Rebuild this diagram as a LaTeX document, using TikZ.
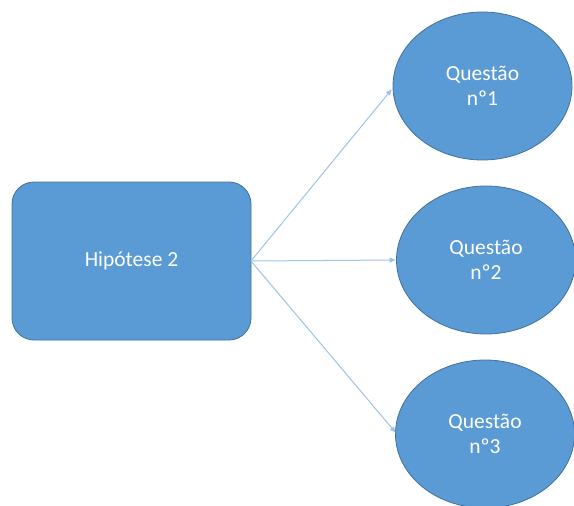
\documentclass[tikz,border=0pt]{standalone}
\usepackage{fontspec}
\setmainfont{Carlito}
\usetikzlibrary{shapes.geometric,arrows.meta}
\definecolor{boxfill}{HTML}{5B9BD5}
\definecolor{boxedge}{HTML}{41719C}
\definecolor{arrowc}{HTML}{9DC3E6}
\tikzset{
  hyp/.style={rectangle, rounded corners=22pt, fill=boxfill, draw=boxedge, line width=0.8pt,
    minimum width=239pt, minimum height=158pt, text=white, font=\fontsize{21.5}{25}\selectfont},
  quest/.style={ellipse, fill=boxfill, draw=boxedge, line width=0.8pt, inner sep=0pt,
    minimum width=179pt, minimum height=148pt, text=white, align=center,
    font=\fontsize{21.5}{25}\selectfont},
  conn/.style={draw=arrowc, line width=1pt, -{Triangle[length=6pt,width=5pt]}, shorten >=0.5pt}
}
\begin{document}
\begin{tikzpicture}[x=1pt,y=1pt]
\useasboundingbox (0,0) rectangle (574,-506);
\clip (0,0) rectangle (574,-506);
\node[hyp] (h) at (131.5,-261) {Hipótese 2};
\node[quest] (q1) at (482.5,-86) {Questão\\nº1};
\node[quest] (q2) at (486,-260) {Questão\\nº2};
\node[quest] (q3) at (485,-434) {Questão\\nº3};
\coordinate (s) at (251,-261);
\coordinate (e1) at (392,-89);
\coordinate (e3) at (396,-433);
\draw[conn] (s) -- (e1);
\draw[conn] (s) -- (q2.west);
\draw[conn] (s) -- (e3);
\end{tikzpicture}
\end{document}
